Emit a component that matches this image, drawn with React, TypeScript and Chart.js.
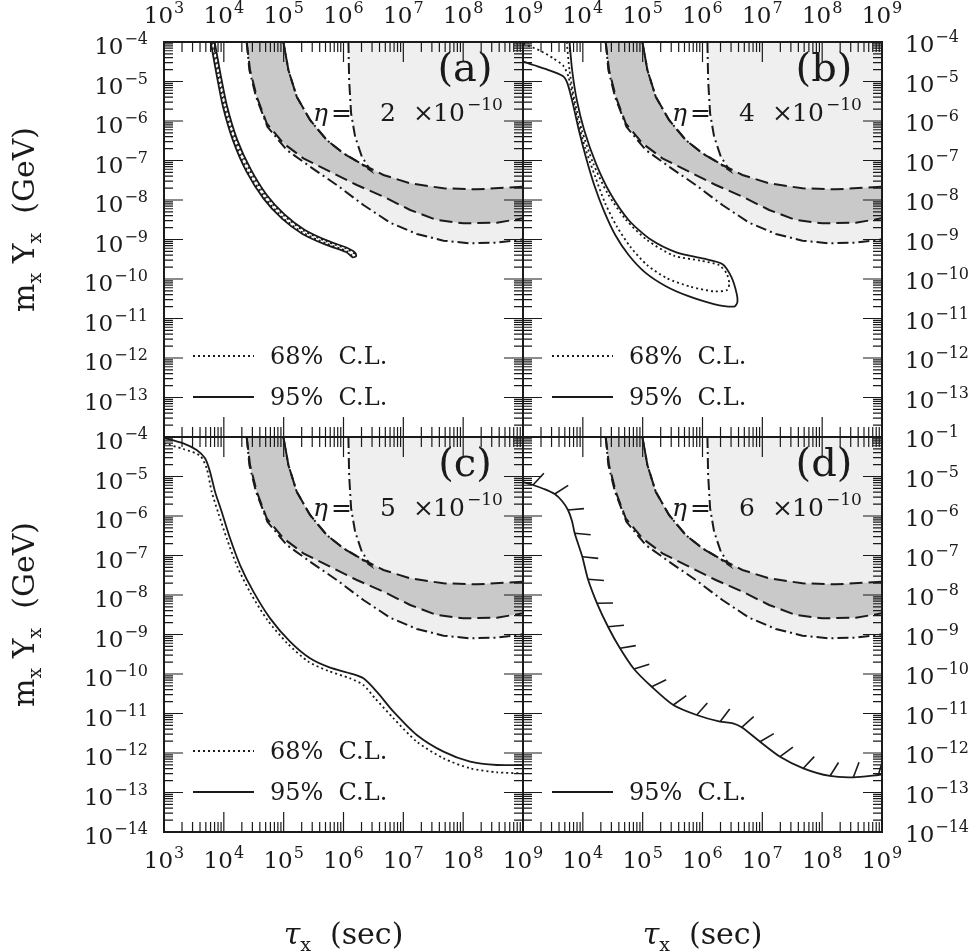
import React, { useEffect, useRef } from "react";
import { Chart, registerables } from "chart.js";
Chart.register(...registerables);

type P = [number, number]; // [log10(tau_x / sec), log10(m_x Y_x / GeV)]

// ---------- shared excluded regions (log10 values) ----------
const bandUpperDashed: P[] = [[4.996,-4.0],[5.079,-4.709],[5.218,-5.384],[5.441,-5.975],[5.720,-6.481],[5.999,-6.819],[6.333,-7.114],[6.668,-7.367],[7.114,-7.578],[7.671,-7.705],[8.229,-7.730],[9.0,-7.662]];
const bandLowerDashed: P[] = [[4.382,-4.0],[4.438,-4.709],[4.550,-5.384],[4.717,-6.059],[4.996,-6.565],[5.330,-6.945],[5.776,-7.283],[6.222,-7.620],[6.668,-7.916],[7.114,-8.253],[7.560,-8.506],[8.006,-8.591],[8.563,-8.574],[9.0,-8.464]];
const outerDashDot: P[] = [[4.382,-4.0],[4.427,-4.709],[4.538,-5.384],[4.728,-6.143],[5.051,-6.734],[5.441,-7.156],[5.887,-7.620],[6.333,-8.127],[6.779,-8.574],[7.225,-8.861],[7.671,-9.030],[8.117,-9.097],[8.563,-9.080],[9.0,-8.996]];
const notchDashDot: P[] = [[6.082,-4.0],[6.094,-4.962],[6.127,-5.806],[6.194,-6.397],[6.306,-6.903],[6.456,-7.257],[6.25,-7.04]];

// ---------- CL contours ----------
const a95: P[] = [[3.847,-4.0],[3.942,-4.793],[4.054,-5.629],[4.221,-6.464],[4.444,-7.207],[4.717,-7.873],[5.018,-8.371],[5.347,-8.751],[5.731,-9.030],[6.066,-9.215],[6.194,-9.333],[6.211,-9.418],[6.155,-9.451],[6.043,-9.316],[5.703,-9.131],[5.308,-8.852],[4.973,-8.473],[4.661,-7.958],[4.377,-7.274],[4.154,-6.498],[3.987,-5.646],[3.875,-4.793],[3.780,-4.0]];
const a68: P[] = [[3.831,-4.0],[3.925,-4.793],[4.037,-5.629],[4.204,-6.473],[4.427,-7.224],[4.700,-7.890],[5.007,-8.397],[5.336,-8.776],[5.726,-9.055],[6.060,-9.241],[6.177,-9.359],[6.155,-9.418],[6.049,-9.291],[5.715,-9.105],[5.319,-8.827],[4.984,-8.447],[4.678,-7.932],[4.394,-7.257],[4.171,-6.489],[4.003,-5.637],[3.892,-4.793],[3.797,-4.0]];
const b95: P[] = [[3.777,-4.0],[3.821,-4.709],[3.899,-5.468],[4.022,-6.228],[4.218,-7.072],[4.458,-7.831],[4.765,-8.506],[5.128,-8.996],[5.575,-9.333],[6.022,-9.485],[6.330,-9.620],[6.480,-9.941],[6.570,-10.363],[6.581,-10.599],[6.525,-10.700],[6.190,-10.633],[5.743,-10.422],[5.380,-10.177],[5.045,-9.840],[4.765,-9.392],[4.542,-8.886],[4.358,-8.295],[4.190,-7.620],[4.056,-6.945],[3.933,-6.228],[3.832,-5.553],[3.743,-5.046],[3.665,-4.861],[3.397,-4.692],[3.173,-4.582],[3.0,-4.49]];
const b68: P[] = [[3.732,-4.0],[3.777,-4.709],[3.860,-5.468],[3.983,-6.228],[4.173,-7.072],[4.413,-7.831],[4.715,-8.489],[5.073,-9.013],[5.520,-9.409],[5.966,-9.536],[6.274,-9.646],[6.402,-9.857],[6.447,-10.110],[6.413,-10.278],[6.190,-10.312],[5.799,-10.194],[5.408,-9.983],[5.073,-9.646],[4.793,-9.181],[4.570,-8.675],[4.374,-8.084],[4.207,-7.409],[4.050,-6.734],[3.925,-6.059],[3.830,-5.384],[3.760,-4.878],[3.676,-4.608],[3.508,-4.414],[3.285,-4.219],[3.0,-4.04]];
const c95: P[] = [[3.0,-4.02],[3.323,-4.160],[3.546,-4.329],[3.686,-4.540],[3.769,-4.878],[3.853,-5.384],[3.964,-5.890],[4.104,-6.565],[4.271,-7.241],[4.494,-7.916],[4.773,-8.591],[5.107,-9.181],[5.441,-9.603],[5.776,-9.840],[6.110,-9.983],[6.333,-10.110],[6.556,-10.447],[6.835,-10.954],[7.225,-11.544],[7.671,-11.966],[8.117,-12.219],[8.563,-12.304],[9.0,-12.304]];
const c68: P[] = [[3.0,-4.160],[3.323,-4.304],[3.602,-4.473],[3.713,-4.793],[3.797,-5.384],[3.909,-5.932],[4.048,-6.565],[4.226,-7.283],[4.449,-7.958],[4.728,-8.633],[5.062,-9.224],[5.414,-9.688],[5.748,-9.924],[6.110,-10.110],[6.333,-10.278],[6.528,-10.616],[6.835,-11.122],[7.225,-11.713],[7.671,-12.135],[8.117,-12.388],[8.563,-12.489],[9.0,-12.515]];
const d95: P[] = [[3.0,-5.139],[3.167,-5.215],[3.351,-5.316],[3.530,-5.443],[3.652,-5.620],[3.752,-5.848],[3.819,-6.127],[3.864,-6.438],[3.991,-7.030],[4.086,-7.603],[4.237,-8.210],[4.421,-8.803],[4.621,-9.349],[4.855,-9.873],[5.151,-10.322],[5.512,-10.785],[5.903,-11.038],[6.293,-11.208],[6.510,-11.248],[6.655,-11.349],[6.961,-11.714],[7.296,-12.094],[7.685,-12.387],[8.131,-12.582],[8.521,-12.615],[8.939,-12.557],[9.0,-12.544]];
const d95Hatch: P[] = [[3.167,-5.215],[3.530,-5.443],[3.752,-5.848],[3.864,-6.438],[3.991,-7.030],[4.086,-7.603],[4.237,-8.210],[4.421,-8.803],[4.621,-9.349],[4.855,-9.873],[5.151,-10.322],[5.512,-10.785],[5.903,-11.038],[6.293,-11.208],[6.655,-11.349],[6.961,-11.714],[7.296,-12.094],[7.685,-12.387],[8.131,-12.582],[8.521,-12.615],[8.939,-12.557]];

// ---------- ticks / labels ----------
const xDecades = [3, 4, 5, 6, 7, 8, 9];
const yDecades = [-4, -5, -6, -7, -8, -9, -10, -11, -12, -13, -14];
const xLabelsLeft = [3, 4, 5, 6, 7, 8, 9];
const xLabelsRight = [4, 5, 6, 7, 8, 9];
const yLabelsTop = [-4, -5, -6, -7, -8, -9, -10, -11, -12, -13];
const yLabelsBottom = [-4, -5, -6, -7, -8, -9, -10, -11, -12, -13, -14];
const yLabelsBottomRight = [-5, -6, -7, -8, -9, -10, -11, -12, -13, -14];
const etaValues = ["2", "4", "5", "6"];
const panelTags = ["(a)", "(b)", "(c)", "(d)"];

const FONT = '"DejaVu Serif", serif';
const INK = "#1a1a1a";
const LIGHT = "#efefef";
const DARK = "#c9c9c9";
const DASHED = [13, 6];
const DASHDOT = [11, 4, 2, 4];
const DOTTED = [2, 3];

const sup = (e: number) => (e < 0 ? "\u2212" + Math.abs(e) : String(e));

type Panel = {
  box: [number, number, number, number];
  idx: number;
  contours: [P[], string][];
  legend: string[];
  xLab: { side: "top" | "bottom"; exps: number[] };
  yLab: { side: "left" | "right"; exps: number[]; extra?: [number, string] };
  leftTitle: boolean;
  bottomTitle: boolean;
  hatch?: P[];
  hatchCurve?: P[];
};

const PANELS: Panel[] = [
  { box: [164, 42, 523, 437], idx: 0, contours: [[a95, "solid"], [a68, "dotted"]], legend: ["68", "95"], xLab: { side: "top", exps: xLabelsLeft }, yLab: { side: "left", exps: yLabelsTop }, leftTitle: true, bottomTitle: false },
  { box: [523, 42, 882, 437], idx: 1, contours: [[b95, "solid"], [b68, "dotted"]], legend: ["68", "95"], xLab: { side: "top", exps: xLabelsRight }, yLab: { side: "right", exps: yLabelsTop }, leftTitle: false, bottomTitle: false },
  { box: [164, 437, 523, 832], idx: 2, contours: [[c95, "solid"], [c68, "dotted"]], legend: ["68", "95"], xLab: { side: "bottom", exps: xLabelsLeft }, yLab: { side: "left", exps: yLabelsBottom }, leftTitle: true, bottomTitle: true },
  { box: [523, 437, 882, 832], idx: 3, contours: [[d95, "solid"]], legend: ["95"], xLab: { side: "bottom", exps: xLabelsRight }, yLab: { side: "right", exps: yLabelsBottomRight, extra: [-4, "\u22121"] }, leftTitle: false, bottomTitle: true, hatch: d95Hatch, hatchCurve: d95 },
];

function drawPow(ctx: CanvasRenderingContext2D, exp: string, x: number, base: number, align: string, size: number, supSize: number, raise: number) {
  ctx.font = `${size}px ${FONT}`;
  const w1 = ctx.measureText("10").width;
  ctx.font = `${supSize}px ${FONT}`;
  const w2 = ctx.measureText(exp).width;
  const total = w1 + 1 + w2;
  const x0 = align === "left" ? x : align === "right" ? x - total : x - total / 2;
  ctx.textAlign = "left";
  ctx.textBaseline = "alphabetic";
  ctx.font = `${size}px ${FONT}`;
  ctx.fillText("10", x0, base);
  ctx.font = `${supSize}px ${FONT}`;
  ctx.fillText(exp, x0 + w1 + 1, base - raise);
}

function decor(p: Panel) {
  return {
    id: "decor" + p.idx,
    afterDatasetsDraw(chart: any) {
      const ctx: CanvasRenderingContext2D = chart.ctx;
      const xs = chart.scales.x, ys = chart.scales.y;
      const a = chart.chartArea;
      const px = (lt: number) => xs.getPixelForValue(Math.pow(10, lt));
      const py = (lm: number) => ys.getPixelForValue(Math.pow(10, lm));
      ctx.save();
      ctx.fillStyle = INK;
      ctx.strokeStyle = INK;

      // hatch marks on the excluded side of the 95% curve
      if (p.hatch && p.hatchCurve) {
        ctx.save();
        ctx.beginPath();
        ctx.rect(a.left, a.top, a.right - a.left, a.bottom - a.top);
        ctx.clip();
        ctx.lineWidth = 1.6;
        const h = p.hatch;
        const c = p.hatchCurve;
        const th = (22 * Math.PI) / 180;
        for (let i = 0; i < h.length; i++) {
          const prev = i === 0 ? c[0] : h[i - 1];
          const next = i === h.length - 1 ? c[c.length - 1] : h[i + 1];
          const dx = px(next[0]) - px(prev[0]);
          const dy = py(next[1]) - py(prev[1]);
          const len = Math.hypot(dx, dy) || 1;
          const nx = dy / len, ny = -dx / len;
          const rx = nx * Math.cos(th) - ny * Math.sin(th);
          const ry = nx * Math.sin(th) + ny * Math.cos(th);
          const x0 = px(h[i][0]), y0 = py(h[i][1]);
          ctx.beginPath();
          ctx.moveTo(x0, y0);
          ctx.lineTo(x0 + rx * 16, y0 + ry * 16);
          ctx.stroke();
        }
        ctx.restore();
      }

      // frame
      ctx.lineWidth = 2;
      ctx.strokeRect(a.left, a.top, a.right - a.left, a.bottom - a.top);

      // ticks
      ctx.lineWidth = 1.2;
      ctx.beginPath();
      for (let i = 0; i < xDecades.length; i++) {
        const d = xDecades[i];
        const x = px(d);
        ctx.moveTo(x, a.top); ctx.lineTo(x, a.top + 20);
        ctx.moveTo(x, a.bottom); ctx.lineTo(x, a.bottom - 20);
        if (i < xDecades.length - 1) {
          for (let k = 2; k <= 9; k++) {
            const xm = px(d + Math.log10(k));
            ctx.moveTo(xm, a.top); ctx.lineTo(xm, a.top + 10);
            ctx.moveTo(xm, a.bottom); ctx.lineTo(xm, a.bottom - 10);
          }
        }
      }
      for (let i = 0; i < yDecades.length; i++) {
        const d = yDecades[i];
        const y = py(d);
        ctx.moveTo(a.left, y); ctx.lineTo(a.left + 19, y);
        ctx.moveTo(a.right, y); ctx.lineTo(a.right - 19, y);
        if (i < yDecades.length - 1) {
          for (let k = 2; k <= 9; k++) {
            const ym = py(d - 1 + Math.log10(k));
            ctx.moveTo(a.left, ym); ctx.lineTo(a.left + 9, ym);
            ctx.moveTo(a.right, ym); ctx.lineTo(a.right - 9, ym);
          }
        }
      }
      ctx.stroke();

      // tick labels
      const MS = 23, SS = 16, RAISE = 10;
      for (const e of p.xLab.exps) {
        const base = p.xLab.side === "top" ? a.top - 19 : a.bottom + 36;
        drawPow(ctx, sup(e), px(e), base, "center", MS, SS, RAISE);
      }
      for (const e of p.yLab.exps) {
        if (p.yLab.side === "left") drawPow(ctx, sup(e), a.left - 16, py(e) + 12, "right", MS, SS, RAISE);
        else drawPow(ctx, sup(e), a.right + 23, py(e) + 10, "left", MS, SS, RAISE);
      }
      if (p.yLab.extra) {
        const [e, s] = p.yLab.extra;
        drawPow(ctx, s, a.right + 23, py(e) + 10, "left", MS, SS, RAISE);
      }

      // panel tag
      ctx.textAlign = "center";
      ctx.font = `40px ${FONT}`;
      ctx.fillText(panelTags[p.idx], a.left + 301, a.top + 39);

      // eta text
      ctx.textAlign = "left";
      ctx.font = `italic 25px ${FONT}`;
      ctx.fillText("\u03b7", a.left + 149, a.top + 79);
      ctx.font = `25px ${FONT}`;
      ctx.fillText("=", a.left + 167, a.top + 79);
      ctx.fillText(etaValues[p.idx], a.left + 216, a.top + 79);
      ctx.fillText("\u00d7", a.left + 249, a.top + 79);
      ctx.fillText("10", a.left + 269, a.top + 79);
      ctx.font = `17px ${FONT}`;
      ctx.fillText("\u221210", a.left + 303, a.top + 68);

      // legend
      ctx.font = `24px ${FONT}`;
      ctx.lineWidth = 2;
      const rows: Record<string, number> = { "68": 314, "95": 355 };
      for (const l of p.legend) {
        const y = a.top + rows[l];
        ctx.setLineDash(l === "68" ? DOTTED : []);
        ctx.beginPath();
        ctx.moveTo(a.left + 29, y);
        ctx.lineTo(a.left + 90, y);
        ctx.stroke();
        ctx.setLineDash([]);
        ctx.fillText(l + "%  C.L.", a.left + 106, y + 8);
      }

      // axis titles
      if (p.leftTitle) {
        const cy = (a.top + a.bottom) / 2 - 20;
        ctx.save();
        ctx.translate(34, cy);
        ctx.rotate(-Math.PI / 2);
        const parts: [string, number, number][] = [["m", 30, 0], ["x", 19, 7], [" Y", 30, 0], ["x", 19, 7], ["  (GeV)", 30, 0]];
        let tw = 0;
        for (const [t, s] of parts) { ctx.font = `${s}px ${FONT}`; tw += ctx.measureText(t).width; }
        let x = -tw / 2;
        for (const [t, s, off] of parts) {
          ctx.font = `${s}px ${FONT}`;
          ctx.fillText(t, x, off);
          x += ctx.measureText(t).width;
        }
        ctx.restore();
      }
      if (p.bottomTitle) {
        const cx = (a.left + a.right) / 2;
        const base = a.bottom + 112;
        const parts: [string, string, number][] = [["\u03c4", `italic 30px ${FONT}`, 0], ["x", `19px ${FONT}`, 7], ["  (sec)", `30px ${FONT}`, 0]];
        let tw = 0;
        for (const [t, f] of parts) { ctx.font = f; tw += ctx.measureText(t).width; }
        let x = cx - tw / 2;
        for (const [t, f, off] of parts) {
          ctx.font = f;
          ctx.fillText(t, x, base + off);
          x += ctx.measureText(t).width;
        }
      }
      ctx.restore();
    },
  };
}

const toXY = (pts: P[]) => pts.map(([a, b]) => ({ x: Math.pow(10, a), y: Math.pow(10, b) }));

function buildDatasets(p: Panel) {
  const TOP = -3.9, RIGHT = 9.05;
  const tip = notchDashDot[notchDashDot.length - 1];
  const upperLeft = bandUpperDashed.filter((q) => q[0] < tip[0]);
  const lightPoly: P[] = [
    ...outerDashDot,
    [RIGHT, outerDashDot[outerDashDot.length - 1][1]],
    [RIGHT, TOP],
    [notchDashDot[0][0], TOP],
    ...notchDashDot,
    ...upperLeft.slice().reverse(),
    [bandUpperDashed[0][0], TOP],
    [outerDashDot[0][0], TOP],
  ];
  const darkPoly: P[] = [
    ...bandLowerDashed,
    [RIGHT, bandLowerDashed[bandLowerDashed.length - 1][1]],
    [RIGHT, bandUpperDashed[bandUpperDashed.length - 1][1]],
    ...bandUpperDashed.slice().reverse(),
    [bandUpperDashed[0][0], TOP],
    [bandLowerDashed[0][0], TOP],
  ];
  const notchLine: P[] = [...notchDashDot, ...upperLeft.slice().reverse()];
  const fillDs = (pts: P[], color: string, order: number) => ({
    data: toXY(pts), showLine: true, fill: "shape", backgroundColor: color,
    borderColor: "rgba(0,0,0,0)", borderWidth: 0, pointRadius: 0, order,
  });
  const lineDs = (pts: P[], dash: number[], order: number, width = 2, tension = 0) => ({
    data: toXY(pts), showLine: true, fill: false, borderColor: INK, borderWidth: width,
    borderDash: dash, pointRadius: 0, order, tension,
  });
  const ds: any[] = [
    fillDs(lightPoly, LIGHT, 30),
    fillDs(darkPoly, DARK, 29),
    lineDs(outerDashDot, DASHDOT, 20),
    lineDs(notchLine, DASHDOT, 20),
    lineDs(bandLowerDashed, DASHED, 19),
    lineDs(bandUpperDashed, DASHED, 19),
  ];
  p.contours.forEach(([pts, style], i) => {
    ds.push(lineDs(pts, style === "dotted" ? DOTTED : [], 5 - i, 1.8, 0.25));
  });
  return ds;
}

function makeChart(canvas: HTMLCanvasElement, p: Panel) {
  const [L, T, R, B] = p.box;
  return new Chart(canvas, {
    type: "scatter",
    data: { datasets: buildDatasets(p) },
    options: {
      animation: false,
      responsive: false,
      maintainAspectRatio: false,
      events: [],
      layout: { padding: { left: L, top: T, right: 977 - R, bottom: 952 - B } },
      scales: {
        x: { type: "logarithmic", min: 1e3, max: 1e9, display: false },
        y: { type: "logarithmic", min: 1e-14, max: 1e-4, display: false },
      },
      plugins: { legend: { display: false }, tooltip: { enabled: false } },
    } as any,
    plugins: [decor(p)],
  });
}

export default function App() {
  const refs = useRef<(HTMLCanvasElement | null)[]>([]);
  useEffect(() => {
    const charts = PANELS.map((p, i) => makeChart(refs.current[i]!, p));
    return () => charts.forEach((c) => c.destroy());
  }, []);
  return (
    <div style={{ position: "fixed", left: 0, top: 0, width: 977, height: 952, background: "#fff" }}>
      {PANELS.map((p, i) => (
        <canvas
          key={i}
          ref={(el) => { refs.current[i] = el; }}
          width={977}
          height={952}
          style={{ position: "absolute", left: 0, top: 0, width: 977, height: 952 }}
        />
      ))}
    </div>
  );
}
